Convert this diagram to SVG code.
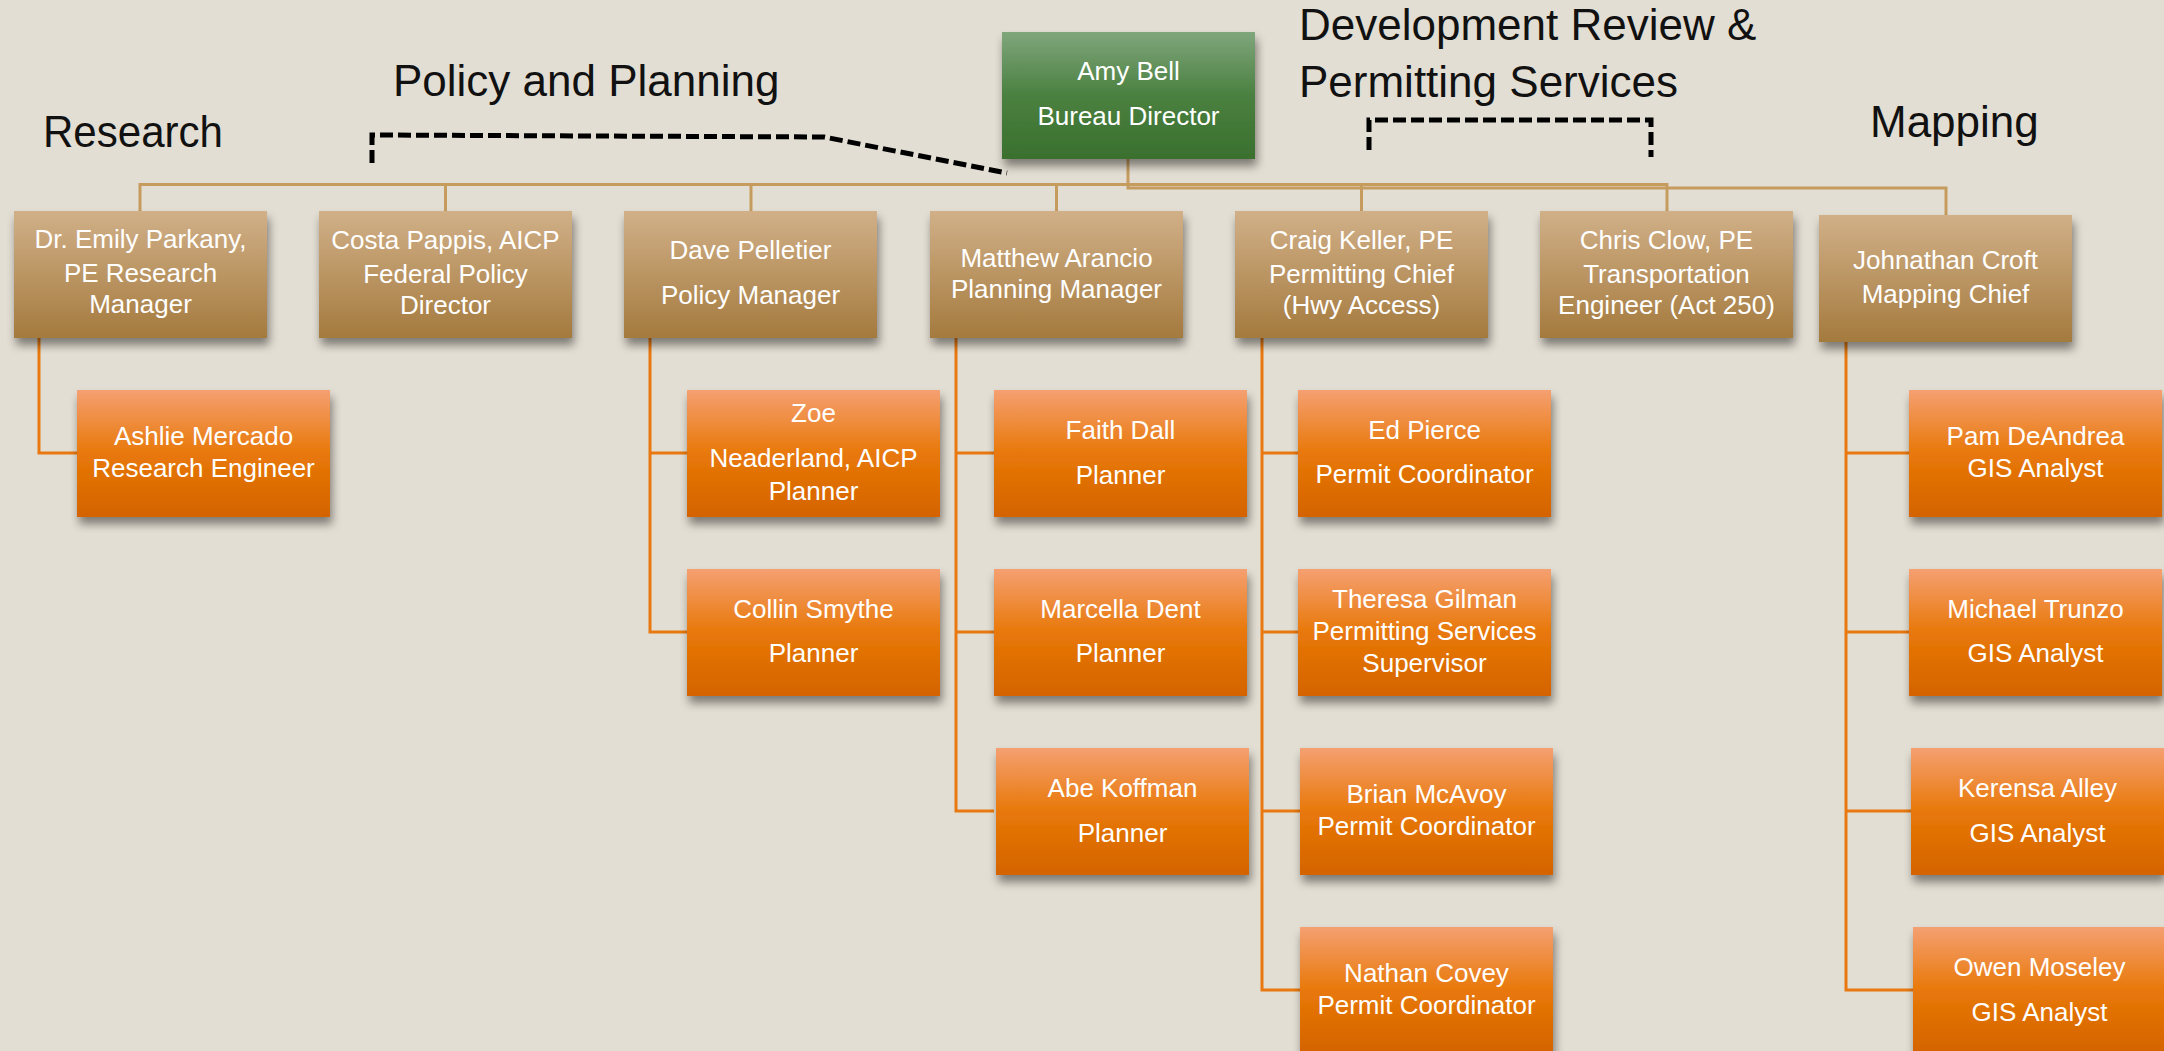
<svg xmlns="http://www.w3.org/2000/svg" width="2164" height="1051" viewBox="0 0 2164 1051">
<defs>
<linearGradient id="gTan" x1="0" y1="0" x2="0" y2="1">
<stop offset="0" stop-color="#D1B088"/>
<stop offset="1" stop-color="#A47A3E"/>
</linearGradient>
<linearGradient id="gOrange" x1="0" y1="0" x2="0" y2="1">
<stop offset="0" stop-color="#F5A072"/>
<stop offset="0.5" stop-color="#E87808"/>
<stop offset="1" stop-color="#D46300"/>
</linearGradient>
<linearGradient id="gGreen" x1="0" y1="0" x2="0" y2="1">
<stop offset="0" stop-color="#80A67C"/>
<stop offset="0.5" stop-color="#4A8040"/>
<stop offset="1" stop-color="#3A702E"/>
</linearGradient>
<filter id="sh" x="-10%" y="-10%" width="125%" height="135%">
<feDropShadow dx="2" dy="7" stdDeviation="5" flood-color="#000" flood-opacity="0.45"/>
</filter>
<style>
.tan{fill:url(#gTan);filter:url(#sh)}
.org{fill:url(#gOrange);filter:url(#sh)}
.grn{fill:url(#gGreen);filter:url(#sh)}
.t{font-family:"Liberation Sans",Arial,sans-serif;font-size:26px;fill:#fff;text-anchor:middle}
.h{font-family:"Liberation Sans",Arial,sans-serif;font-size:44px;fill:#111}
.ct{fill:none;stroke:#C59B5E;stroke-width:3}
.co{fill:none;stroke:#E8780F;stroke-width:3}
.dash{fill:none;stroke:#000;stroke-width:5;stroke-dasharray:13 5}
</style>
</defs>
<rect width="2164" height="1051" fill="#E3DED3"/>

<g id="labels">
<text class="h" x="43" y="147" textLength="180" lengthAdjust="spacingAndGlyphs">Research</text>
<text class="h" x="393" y="96">Policy and Planning</text>
<text class="h" x="1299" y="40">Development Review &amp;</text>
<text class="h" x="1299" y="97">Permitting Services</text>
<text class="h" x="1870" y="137">Mapping</text>
<path class="dash" d="M372,163 V135 L824,137 L1007,173"/>
<path class="dash" d="M1369,150 V120 H1651 V157"/>
</g>

<g id="connectors">
<path class="ct" d="M1128,159 V188 H1946 V215"/>
<path class="ct" d="M140,211 V184.5 H1667 V211"/>
<path class="ct" d="M445.5,184.5 V211 M751,184.5 V211 M1056.5,184.5 V211 M1361.5,184.5 V211"/>
<path class="co" d="M39,338 V453 H77"/>
<path class="co" d="M650,338 V632 H687 M650,453 H687"/>
<path class="co" d="M956,338 V811 H994 M956,453 H994 M956,632 H994"/>
<path class="co" d="M1262,338 V990 H1300 M1262,453 H1298 M1262,632 H1298 M1262,811 H1300"/>
<path class="co" d="M1846,342 V990 H1913 M1846,453 H1909 M1846,632 H1909 M1846,811 H1911"/>
</g>

<g id="amy"><rect class="grn" x="1002" y="32" width="253" height="127"/>
<text class="t" x="1128.5" y="80">Amy Bell</text><text class="t" x="1128.5" y="125">Bureau Director</text></g>

<g id="emily"><rect class="tan" x="14" y="211" width="253" height="127"/>
<text class="t" x="140.5" y="248">Dr. Emily Parkany,</text><text class="t" x="140.5" y="282">PE Research</text><text class="t" x="140.5" y="313">Manager</text></g>
<g id="costa"><rect class="tan" x="319" y="211" width="253" height="127"/>
<text class="t" x="445.5" y="249">Costa Pappis, AICP</text><text class="t" x="445.5" y="283">Federal Policy</text><text class="t" x="445.5" y="314">Director</text></g>
<g id="dave"><rect class="tan" x="624" y="211" width="253" height="127"/>
<text class="t" x="750.5" y="259">Dave Pelletier</text><text class="t" x="750.5" y="304">Policy Manager</text></g>
<g id="matthew"><rect class="tan" x="930" y="211" width="253" height="127"/>
<text class="t" x="1056.5" y="267">Matthew Arancio</text><text class="t" x="1056.5" y="298">Planning Manager</text></g>
<g id="craig"><rect class="tan" x="1235" y="211" width="253" height="127"/>
<text class="t" x="1361.5" y="249">Craig Keller, PE</text><text class="t" x="1361.5" y="283">Permitting Chief</text><text class="t" x="1361.5" y="314">(Hwy Access)</text></g>
<g id="chris"><rect class="tan" x="1540" y="211" width="253" height="127"/>
<text class="t" x="1666.5" y="249">Chris Clow, PE</text><text class="t" x="1666.5" y="283">Transportation</text><text class="t" x="1666.5" y="314">Engineer (Act 250)</text></g>
<g id="johnathan"><rect class="tan" x="1819" y="215" width="253" height="127"/>
<text class="t" x="1945.5" y="269">Johnathan Croft</text><text class="t" x="1945.5" y="303">Mapping Chief</text></g>

<g id="ashlie"><rect class="org" x="77" y="390" width="253" height="127"/>
<text class="t" x="203.5" y="445">Ashlie Mercado</text><text class="t" x="203.5" y="477">Research Engineer</text></g>
<g id="zoe"><rect class="org" x="687" y="390" width="253" height="127"/>
<text class="t" x="813.5" y="422">Zoe</text><text class="t" x="813.5" y="467">Neaderland, AICP</text><text class="t" x="813.5" y="500">Planner</text></g>
<g id="collin"><rect class="org" x="687" y="569" width="253" height="127"/>
<text class="t" x="813.5" y="618">Collin Smythe</text><text class="t" x="813.5" y="662">Planner</text></g>
<g id="faith"><rect class="org" x="994" y="390" width="253" height="127"/>
<text class="t" x="1120.5" y="439">Faith Dall</text><text class="t" x="1120.5" y="484">Planner</text></g>
<g id="marcella"><rect class="org" x="994" y="569" width="253" height="127"/>
<text class="t" x="1120.5" y="618">Marcella Dent</text><text class="t" x="1120.5" y="662">Planner</text></g>
<g id="abe"><rect class="org" x="996" y="748" width="253" height="127"/>
<text class="t" x="1122.5" y="797">Abe Koffman</text><text class="t" x="1122.5" y="842">Planner</text></g>
<g id="ed"><rect class="org" x="1298" y="390" width="253" height="127"/>
<text class="t" x="1424.5" y="439">Ed Pierce</text><text class="t" x="1424.5" y="483">Permit Coordinator</text></g>
<g id="theresa"><rect class="org" x="1298" y="569" width="253" height="127"/>
<text class="t" x="1424.5" y="608">Theresa Gilman</text><text class="t" x="1424.5" y="640">Permitting Services</text><text class="t" x="1424.5" y="672">Supervisor</text></g>
<g id="brian"><rect class="org" x="1300" y="748" width="253" height="127"/>
<text class="t" x="1426.5" y="803">Brian McAvoy</text><text class="t" x="1426.5" y="835">Permit Coordinator</text></g>
<g id="nathan"><rect class="org" x="1300" y="927" width="253" height="127"/>
<text class="t" x="1426.5" y="982">Nathan Covey</text><text class="t" x="1426.5" y="1014">Permit Coordinator</text></g>
<g id="pam"><rect class="org" x="1909" y="390" width="253" height="127"/>
<text class="t" x="2035.5" y="445">Pam DeAndrea</text><text class="t" x="2035.5" y="477">GIS Analyst</text></g>
<g id="michael"><rect class="org" x="1909" y="569" width="253" height="127"/>
<text class="t" x="2035.5" y="618">Michael Trunzo</text><text class="t" x="2035.5" y="662">GIS Analyst</text></g>
<g id="kerensa"><rect class="org" x="1911" y="748" width="253" height="127"/>
<text class="t" x="2037.5" y="797">Kerensa Alley</text><text class="t" x="2037.5" y="842">GIS Analyst</text></g>
<g id="owen"><rect class="org" x="1913" y="927" width="253" height="127"/>
<text class="t" x="2039.5" y="976">Owen Moseley</text><text class="t" x="2039.5" y="1021">GIS Analyst</text></g>
</svg>
